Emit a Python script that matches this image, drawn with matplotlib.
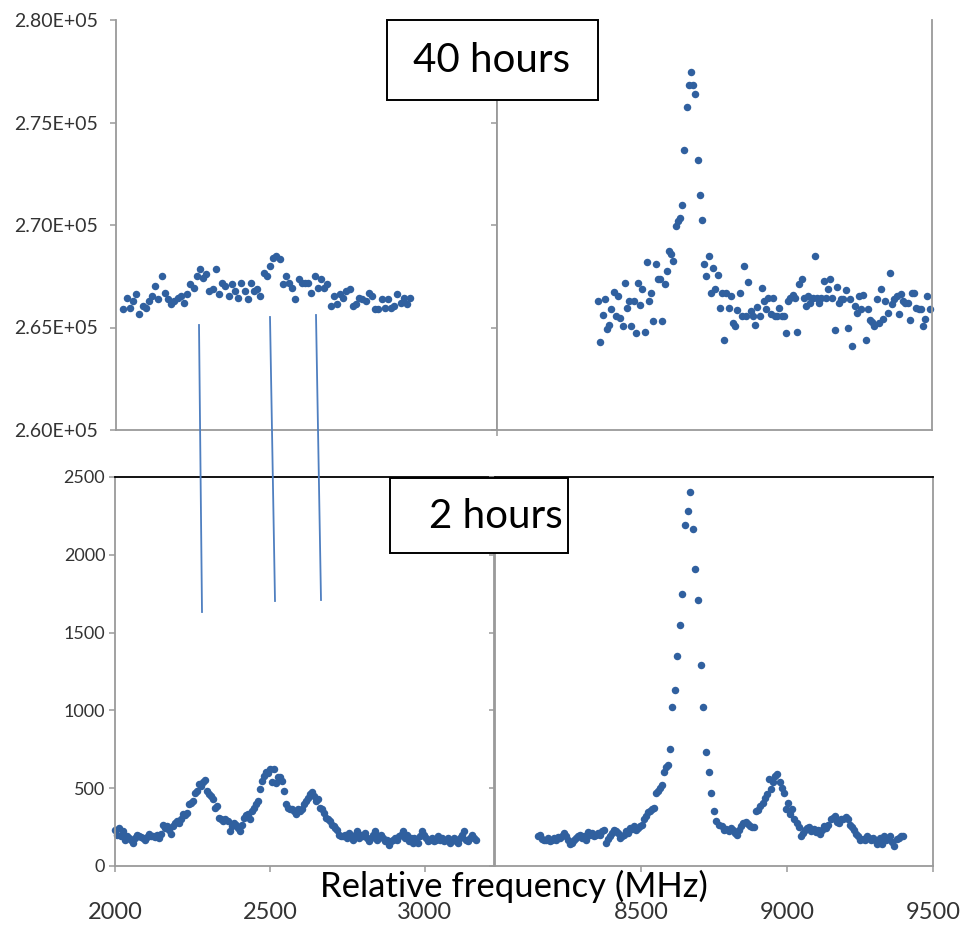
import matplotlib

matplotlib.use("Agg")
import matplotlib.pyplot as plt
import numpy as np
from matplotlib.lines import Line2D
from matplotlib.patches import Rectangle
from matplotlib.ticker import FuncFormatter

W, H = 970, 933
DOT = "#30609f"
GRAY = "#9a9a9a"
LINE_BLUE = "#4f7fc0"

# ---- 40 hours, low band (counts) ----
tl_freq_range = (2027, 2952)
tl_counts = [
    265890, 266460, 265970, 266290, 266620, 265640, 266050, 265970, 266290, 266540,
    267020, 266370, 267510, 266700, 266370, 266130, 266290, 266460, 266540, 266210,
    266620, 267100, 266940, 267510, 267830, 267430, 267590, 266780, 266860, 267830,
    266620, 267180, 267020, 266540, 267100, 266780, 266460, 267180, 266780, 266370,
    267180, 266780, 266860, 266540, 267670, 267510, 268000, 268400, 268480, 268320,
    267100, 267510, 267180, 266940, 266370, 267350, 267180, 267180, 267180, 266700,
    267510, 266940, 267350, 266940, 267100, 266050, 266540, 266130, 266620, 266460,
    266780, 266860, 266050, 266130, 266460, 266370, 266290, 266700, 266540, 265890,
    265890, 266370, 265970, 266370, 265970, 266050, 266620, 266210, 266460, 266130,
    266460,
]

# ---- 40 hours, high band ----
tr_freq_range = (8349, 9492)
tr_counts = [
    266290, 264270, 265600, 266380, 264920, 265110, 265890, 266730, 265560, 266540,
    265480, 265080, 267190, 265970, 266290, 265080, 266290, 264750, 267190, 266080,
    266860, 264790, 268190, 266290, 266700, 265320, 268080, 267350, 267350, 265320,
    267110, 267750, 268730, 268570, 268240, 269940, 270190, 270350, 271000, 273640,
    275750, 276840, 277470, 276840, 276400, 273160, 271450, 270240, 268080, 267510,
    268480, 266700, 267920, 266860, 267540, 265970, 266670, 264380, 266670, 265970,
    266540, 265240, 265080, 265860, 266700, 265560, 268000, 265560, 267220, 265810,
    265560, 265110, 266020, 265560, 266940, 266290, 265890, 266460, 265650, 266460,
    265560, 265560, 265970, 265560, 265560, 264750, 266290, 266460, 266570, 266460,
    264790, 267110, 267350, 266460, 266050, 266540, 266210, 266460, 268480, 266460,
    266210, 266460, 267270, 266460, 266890, 267380, 266460, 264880, 266990, 266210,
    266380, 266410, 266830, 265000, 266410, 264100, 266050, 265730, 266540, 265920,
    266570, 264380, 265920, 265370, 265270, 265080, 266380, 265240, 266860, 265430,
    266290, 265730, 267670, 266130, 266410, 266540, 265650, 266620, 266290, 266210,
    266210, 265370, 266670, 266700, 265970, 265890, 265890, 265080, 265400, 266540,
    265890,
]

# ---- 2 hours, low band (two stretches) ----
bl_freq_range_a = (2000, 2577)
bl_counts_a = [
    234, 201, 245, 190, 223, 169, 190, 180, 169, 147,
    180, 201, 195, 186, 180, 169, 186, 208, 195, 190,
    186, 201, 180, 208, 266, 245, 260, 234, 208, 255,
    277, 288, 277, 299, 331, 325, 342, 396, 407, 418,
    472, 483, 526, 515, 537, 554, 483, 461, 450, 428,
    374, 385, 309, 299, 288, 299, 288, 223, 255, 277,
    266, 245, 223, 266, 309, 325, 331, 299, 353, 374,
    396, 418, 498, 547, 580, 601, 597, 623, 537, 623,
    532, 569, 569, 547, 483, 396, 374, 364, 364, 353,
]
bl_freq_range_b = (2584, 3164)
bl_counts_b = [
    331, 364, 353, 364, 396, 418, 439, 461, 476, 450,
    418, 428, 374, 364, 342, 309, 299, 288, 266, 255,
    245, 234, 201, 190, 195, 201, 180, 212, 190, 169,
    201, 223, 180, 201, 190, 212, 180, 158, 180, 201,
    223, 169, 190, 201, 180, 158, 169, 136, 158, 169,
    180, 169, 190, 201, 223, 180, 201, 158, 180, 147,
    180, 169, 147, 190, 223, 201, 180, 158, 169, 180,
    158, 169, 190, 169, 180, 158, 169, 180, 147, 169,
    180, 158, 147, 180, 201, 223, 169, 158, 180, 201,
    180, 169,
]

# ---- 2 hours, high band (three stretches) ----
br_freq_range_a = (8148, 8599)
br_counts_a = [
    191, 202, 173, 169, 169, 180, 158, 169, 180, 169,
    186, 180, 191, 212, 191, 169, 143, 147, 169, 180,
    191, 202, 180, 191, 169, 217, 202, 212, 191, 202,
    212, 202, 223, 234, 147, 173, 191, 212, 234, 223,
    212, 180, 195, 202, 223, 212, 245, 238, 256, 230,
    245, 256, 266, 299, 320, 346, 353, 364, 375, 472,
    483, 504, 520, 606, 634, 649, 749,
]
br_freq_range_b = (8606, 8767)
br_counts_b = [1025, 1129, 1350, 1551, 1746, 2194, 2284, 2401, 2168, 1908,
               1707, 1292, 1025, 731, 606, 468, 353, 288, 266]
br_freq_range_c = (8778, 9397)
br_counts_c = [
    256, 234, 238, 223, 245, 230, 212, 202, 230, 256,
    277, 282, 273, 260, 251, 251, 353, 359, 385, 407,
    439, 461, 558, 494, 537, 580, 591, 537, 504, 472,
    364, 407, 331, 364, 299, 277, 251, 195, 212, 230,
    245, 251, 223, 238, 217, 234, 208, 234, 260, 245,
    266, 299, 310, 320, 282, 277, 299, 303, 316, 299,
    266, 251, 234, 208, 191, 169, 173, 169, 195, 180,
    169, 180, 169, 143, 180, 143, 191, 169, 173, 191,
    152, 130, 173, 180, 191, 195,
]

top_yticks = [260000, 265000, 270000, 275000, 280000]
bottom_yticks = [0, 500, 1000, 1500, 2000, 2500]
low_xticks = [2000, 2500, 3000]
high_xticks = [8500, 9000, 9500]

plt.rcParams["font.family"] = ["Lato", "DejaVu Sans"]


def grid_of(rng, n):
    return np.linspace(rng[0], rng[1], n)


def add_px_axes(fig, x0, y0, x1, y1):
    return fig.add_axes([x0 / W, 1 - y1 / H, (x1 - x0) / W, (y1 - y0) / H])


def style(ax, labelsize):
    for s in ax.spines.values():
        s.set_color(GRAY)
        s.set_linewidth(1.3)
    ax.spines["top"].set_visible(False)
    ax.tick_params(direction="out", length=4, width=1.1, color=GRAY,
                   labelsize=labelsize, labelcolor="#333333")


def dots(ax, x, y):
    ax.plot(x, y, "o", ms=5.4, color=DOT, mec="none", clip_on=False)


fig = plt.figure(figsize=(W / 100, H / 100), dpi=100)

# top row
ax_tl = add_px_axes(fig, 116, 20, 497, 430)
style(ax_tl, 14)
dots(ax_tl, grid_of(tl_freq_range, len(tl_counts)), tl_counts)
ax_tl.set_xlim(2003, 3232)
ax_tl.set_ylim(top_yticks[0], top_yticks[-1])
ax_tl.set_yticks(top_yticks)
ax_tl.yaxis.set_major_formatter(FuncFormatter(lambda v, _: f"{v:.2E}"))
ax_tl.tick_params(axis="y", pad=9)
ax_tl.set_xticks([])

ax_tr = add_px_axes(fig, 497, 20, 932, 430)
style(ax_tr, 14)
dots(ax_tr, grid_of(tr_freq_range, len(tr_counts)), tr_counts)
ax_tr.set_xlim(8000, 9500)
ax_tr.set_ylim(top_yticks[0], top_yticks[-1])
ax_tr.set_yticks(top_yticks)
ax_tr.set_yticklabels([])
ax_tr.set_xticks([8000])
ax_tr.set_xticklabels([])

# bottom row
ax_bl = add_px_axes(fig, 115, 477, 494, 866)
style(ax_bl, 13)
ax_bl.spines["top"].set_visible(True)
ax_bl.spines["top"].set_color("black")
dots(ax_bl, grid_of(bl_freq_range_a, len(bl_counts_a)), bl_counts_a)
dots(ax_bl, grid_of(bl_freq_range_b, len(bl_counts_b)), bl_counts_b)
ax_bl.set_xlim(2000, 3223)
ax_bl.set_ylim(bottom_yticks[0], bottom_yticks[-1])
ax_bl.set_yticks(bottom_yticks)
ax_bl.tick_params(axis="y", pad=3)
ax_bl.set_xticks(low_xticks)
ax_bl.tick_params(axis="x", pad=22, labelsize=17)

ax_br = add_px_axes(fig, 495, 477, 933, 866)
style(ax_br, 13)
ax_br.spines["top"].set_visible(True)
ax_br.spines["top"].set_color("black")
dots(ax_br, grid_of(br_freq_range_a, len(br_counts_a)), br_counts_a)
dots(ax_br, grid_of(br_freq_range_b, len(br_counts_b)), br_counts_b)
dots(ax_br, grid_of(br_freq_range_c, len(br_counts_c)), br_counts_c)
ax_br.set_xlim(8000, 9500)
ax_br.set_ylim(bottom_yticks[0], bottom_yticks[-1])
ax_br.set_yticks(bottom_yticks)
ax_br.set_yticklabels([])
ax_br.set_xticks(high_xticks)
ax_br.tick_params(axis="x", pad=22, labelsize=17)

fig.text(514 / W, 1 - 886 / H, "Relative frequency (MHz)", ha="center", va="center",
         fontsize=25, family="Lato")

# labelled boxes
for (x0, y0, x1, y1), (tx, ty), label in [
    ((387, 20, 598, 100), (492, 61), "40 hours"),
    ((390, 478, 568, 553), (496, 516), "2 hours"),
]:
    fig.add_artist(Rectangle((x0 / W, 1 - y1 / H), (x1 - x0) / W, (y1 - y0) / H,
                             transform=fig.transFigure, fill=True, fc="white",
                             ec="black", lw=1.4, zorder=5))
    fig.text(tx / W, 1 - ty / H, label, ha="center", va="center", fontsize=29,
             family="Lato", zorder=6)

# lines linking the matching peaks of the two spectra
for (xa, ya), (xb, yb) in [((199, 325), (202, 612)),
                           ((270, 317), (275, 601)),
                           ((316, 315), (321, 600))]:
    fig.add_artist(Line2D([xa / W, xb / W], [1 - ya / H, 1 - yb / H],
                          transform=fig.transFigure, color=LINE_BLUE, lw=1.3))

fig.savefig("out.png", dpi=100)
